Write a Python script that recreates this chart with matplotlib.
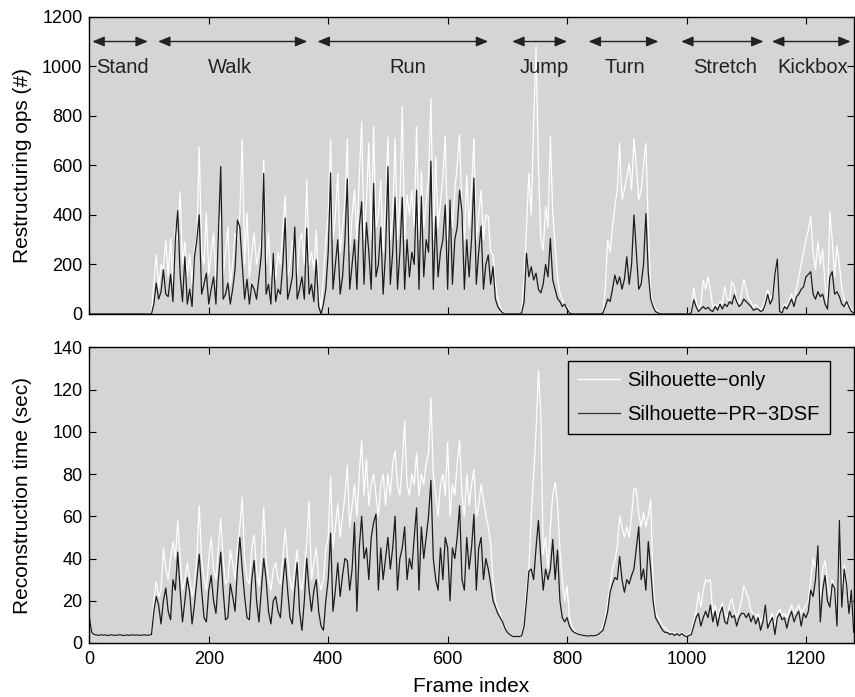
import numpy as np
import matplotlib
matplotlib.use('Agg')
import matplotlib.pyplot as plt

plt.rcParams['font.family'] = ['Liberation Sans', 'DejaVu Sans']

# Valores, um a cada 4 frames (0, 4, ..., 1280)
sil_ops = [
    0, 0, 0, 0, 0, 0, 0, 0, 0, 0, 0, 0, 0, 0, 0, 0, 0, 0, 0, 0,
    0, 0, 0, 0, 0, 0, 0, 120, 240, 100, 200, 180, 300, 150, 305, 130, 350, 300, 494, 200,
    292, 150, 240, 120, 260, 300, 675, 250, 200, 407, 160, 250, 326, 140, 312, 400, 150, 250, 352, 120,
    200, 326, 300, 400, 706, 200, 407, 150, 250, 326, 200, 250, 300, 621, 200, 326, 150, 245, 140, 250,
    200, 350, 476, 150, 200, 298, 250, 160, 300, 326, 200, 541, 200, 250, 180, 339, 100, 20, 150, 300,
    400, 705, 300, 400, 568, 250, 350, 450, 705, 250, 400, 500, 300, 550, 776, 300, 450, 691, 300, 756,
    350, 400, 541, 250, 450, 713, 300, 400, 709, 300, 450, 837, 300, 480, 400, 500, 350, 756, 300, 577,
    350, 450, 550, 870, 300, 635, 350, 450, 550, 718, 300, 450, 350, 500, 600, 725, 400, 300, 560, 350,
    500, 709, 300, 400, 500, 300, 400, 393, 250, 238, 120, 60, 30, 10, 0, 0, 0, 0, 0, 0,
    0, 10, 150, 346, 568, 400, 770, 1079, 600, 299, 258, 433, 350, 716, 407, 272, 150, 85, 60, 40,
    30, 10, 0, 0, 0, 0, 0, 0, 0, 0, 0, 0, 0, 0, 0, 10, 100, 299, 250, 350,
    433, 500, 689, 460, 500, 554, 608, 500, 709, 595, 460, 500, 600, 689, 352, 85, 40, 20, 10, 0,
    0, 0, 0, 0, 0, 0, 0, 0, 0, 0, 0, 0, 10, 104, 57, 15, 40, 137, 100, 151,
    97, 27, 40, 30, 50, 40, 110, 60, 55, 130, 110, 60, 40, 80, 140, 97, 60, 50, 27, 40,
    27, 15, 30, 60, 97, 60, 80, 160, 221, 20, 10, 40, 30, 60, 80, 50, 100, 150, 200, 250,
    300, 339, 393, 250, 180, 292, 200, 260, 120, 30, 413, 300, 150, 278, 200, 100, 60, 30, 40, 20,
    10]

pr_ops = [
    0, 0, 0, 0, 0, 0, 0, 0, 0, 0, 0, 0, 0, 0, 0, 0, 0, 0, 0, 0,
    0, 0, 0, 0, 0, 0, 0, 40, 125, 60, 90, 178, 80, 70, 160, 50, 300, 417, 160, 50,
    231, 40, 100, 30, 231, 298, 400, 80, 120, 165, 40, 100, 150, 40, 312, 595, 60, 80, 125, 40,
    100, 180, 379, 351, 200, 60, 140, 40, 120, 100, 60, 150, 238, 568, 80, 120, 40, 245, 50, 100,
    80, 200, 387, 60, 100, 150, 351, 60, 100, 150, 60, 347, 80, 120, 50, 218, 30, 0, 40, 100,
    250, 570, 100, 200, 300, 80, 150, 300, 545, 100, 200, 300, 100, 350, 453, 120, 369, 250, 100, 527,
    150, 200, 350, 80, 250, 595, 120, 250, 471, 100, 250, 471, 100, 300, 150, 250, 200, 500, 100, 476,
    150, 300, 250, 617, 100, 393, 150, 250, 300, 440, 100, 460, 120, 300, 350, 500, 413, 100, 300, 150,
    300, 548, 120, 250, 355, 100, 200, 238, 120, 191, 60, 30, 15, 5, 0, 0, 0, 0, 0, 0,
    0, 5, 50, 245, 150, 191, 137, 165, 100, 85, 120, 200, 150, 305, 137, 100, 62, 50, 30, 40,
    20, 5, 0, 0, 0, 0, 0, 0, 0, 0, 0, 0, 0, 0, 0, 5, 30, 60, 50, 100,
    157, 120, 150, 100, 140, 231, 120, 200, 400, 250, 100, 120, 200, 406, 165, 60, 30, 10, 5, 0,
    0, 0, 0, 0, 0, 0, 0, 0, 0, 0, 0, 0, 5, 57, 30, 10, 20, 30, 20, 27,
    15, 10, 30, 15, 40, 20, 40, 30, 50, 40, 77, 50, 30, 40, 60, 50, 40, 30, 15, 20,
    20, 10, 15, 40, 80, 40, 60, 160, 221, 10, 5, 30, 20, 40, 60, 30, 70, 80, 100, 110,
    150, 160, 171, 80, 60, 90, 70, 80, 40, 20, 150, 171, 80, 90, 70, 40, 30, 50, 30, 10,
    5]

sil_time = [
    12, 5, 4, 3.8, 3.6, 3.9, 3.7, 3.8, 3.5, 3.9, 3.7, 3.6, 3.8, 3.9, 3.5, 3.7, 3.8, 3.6, 3.9, 3.7,
    3.8, 3.6, 3.7, 3.9, 3.6, 3.8, 4, 20, 29, 22, 25, 45, 35, 30, 40, 48, 40, 58, 40, 25,
    30, 38, 30, 22, 28, 40, 65, 40, 30, 25, 40, 50, 35, 30, 45, 59, 40, 28, 30, 44,
    38, 30, 45, 55, 69, 40, 30, 28, 45, 51, 35, 27, 40, 64, 40, 30, 25, 35, 38, 30,
    28, 40, 54, 40, 30, 25, 35, 44, 30, 25, 35, 48, 67, 30, 38, 45, 30, 25, 30, 45,
    50, 79, 45, 55, 66, 50, 60, 70, 84, 55, 65, 75, 60, 80, 96, 70, 87, 65, 75, 80,
    70, 60, 75, 80, 65, 80, 70, 85, 91, 75, 70, 85, 105, 75, 70, 80, 75, 90, 70, 80,
    75, 85, 90, 116, 80, 70, 60, 75, 80, 70, 95, 60, 75, 70, 85, 96, 70, 60, 80, 65,
    75, 82, 60, 65, 75, 68, 60, 55, 47, 30, 20, 16, 14, 10, 8, 5, 4, 3.2, 3, 3.1,
    3, 3.5, 10, 25, 36, 60, 80, 100, 129, 109, 42, 50, 35, 55, 70, 76, 66, 44, 30, 20,
    27, 12, 8, 6, 5, 4, 3.8, 3.5, 3.4, 3.3, 3.5, 3.4, 3.6, 4, 5, 8, 12, 20, 27, 35,
    39, 45, 60, 55, 50, 55, 50, 60, 73, 73, 61, 55, 62, 55, 60, 68, 27, 15, 12, 10,
    8, 7, 6, 5, 5, 4.5, 5, 4, 5, 4, 3.5, 4, 5, 10, 15, 24, 17, 25, 30, 29,
    30, 14, 18, 12, 16, 19, 14, 12, 18, 21, 16, 12, 15, 20, 27, 24, 21, 15, 14, 12,
    14, 10, 12, 18, 9, 12, 14, 8, 14, 16, 13, 14, 12, 15, 18, 14, 16, 18, 14, 16,
    18, 20, 30, 40, 35, 46, 20, 35, 39, 28, 22, 30, 26, 15, 58, 25, 37, 30, 18, 25,
    8]

pr_time = [
    12, 5, 4, 3.8, 3.6, 3.9, 3.7, 3.8, 3.5, 3.9, 3.7, 3.6, 3.8, 3.9, 3.5, 3.7, 3.8, 3.6, 3.9, 3.7,
    3.8, 3.6, 3.7, 3.9, 3.6, 3.8, 4, 15, 22, 18, 9, 20, 26, 15, 11, 30, 25, 43, 25, 10,
    20, 31, 24, 9, 18, 30, 42, 25, 12, 10, 25, 32, 20, 14, 30, 43, 25, 11, 12, 28,
    22, 15, 35, 50, 35, 22, 12, 11, 30, 39, 20, 10, 25, 40, 30, 15, 9, 20, 22, 15,
    12, 28, 40, 25, 12, 9, 25, 38, 15, 6, 20, 40, 25, 15, 25, 30, 15, 8, 6, 20,
    30, 52, 15, 25, 38, 22, 32, 40, 39, 25, 35, 57, 15, 45, 60, 40, 45, 30, 50, 57,
    61, 25, 45, 30, 40, 50, 35, 45, 60, 25, 40, 45, 55, 30, 40, 35, 50, 64, 25, 55,
    40, 50, 60, 77, 40, 30, 25, 45, 30, 50, 45, 20, 45, 40, 50, 65, 30, 25, 50, 35,
    45, 61, 25, 45, 50, 30, 40, 35, 28, 20, 17, 14, 12, 10, 7, 5, 4, 3.2, 3, 3.1,
    3, 3.5, 8, 20, 34, 35, 30, 45, 58, 40, 25, 35, 30, 35, 49, 30, 44, 20, 12, 10,
    12, 8, 6, 5, 4.5, 4, 3.8, 3.5, 3.4, 3.3, 3.5, 3.4, 3.6, 4, 5, 6, 10, 15, 24, 28,
    31, 30, 41, 30, 24, 30, 28, 32, 35, 45, 55, 30, 35, 25, 48, 35, 20, 12, 10, 8,
    6, 5, 5, 4, 4.5, 3.5, 4.5, 3.5, 4.5, 3.5, 3, 3.5, 4, 8, 12, 14, 8, 12, 15, 12,
    18, 10, 15, 8, 14, 17, 10, 9, 15, 12, 13, 8, 12, 14, 14, 12, 14, 10, 13, 9,
    12, 6, 10, 18, 7, 10, 12, 4, 12, 14, 11, 12, 7, 12, 15, 10, 13, 15, 8, 14,
    12, 15, 25, 22, 30, 46, 10, 25, 32, 20, 17, 28, 26, 8, 58, 17, 35, 28, 14, 25,
    5]

# Atividades (inicio, fim, posicao do texto) em frames
atividades = ['Stand', 'Walk', 'Run', 'Jump', 'Turn', 'Stretch', 'Kickbox']
inicio = [5, 115, 382, 708, 836, 991, 1143]
fim = [98, 365, 668, 800, 953, 1129, 1275]
pos_texto = [55, 235, 533, 761, 897, 1064, 1211]

bg = '#d4d5d7'
cor_escura = '#1c1c1c'

fig = plt.figure(figsize=(8.55, 6.97), dpi=100)
ax1 = fig.add_axes([0.1045, 0.5495, 0.894, 0.4265])
ax2 = fig.add_axes([0.1045, 0.0775, 0.894, 0.4242])

# Grafico de cima: operacoes de reestruturacao
ax1.plot(np.arange(len(sil_ops)) * 4, sil_ops, color='white', lw=0.9)
ax1.plot(np.arange(len(pr_ops)) * 4, pr_ops, color=cor_escura, lw=0.9)
ax1.set_ylim(0, 1200)
ax1.set_yticks(range(0, 1201, 200))
ax1.set_ylabel('Restructuring ops (#)', fontsize=15)

for nome, a, b, t in zip(atividades, inicio, fim, pos_texto):
    ax1.annotate('', xy=(b, 1100), xytext=(a, 1100),
                 arrowprops=dict(arrowstyle='<|-|>,head_length=0.6,head_width=0.25',
                                 color='#222222', lw=1, mutation_scale=12,
                                 shrinkA=0, shrinkB=0))
    ax1.text(t, 995, nome, ha='center', va='center', fontsize=14.5, color='#222222')

# Grafico de baixo: tempo de reconstrucao
ax2.plot(np.arange(len(sil_time)) * 4, sil_time, color='white', lw=0.9,
         label='Silhouette\u2212only')
ax2.plot(np.arange(len(pr_time)) * 4, pr_time, color=cor_escura, lw=0.9,
         label='Silhouette\u2212PR\u22123DSF')
ax2.set_ylim(0, 140)
ax2.set_yticks(range(0, 141, 20))
ax2.set_ylabel('Reconstruction time (sec)', fontsize=15)
ax2.set_xlabel('Frame index', fontsize=15)
leg = ax2.legend(loc='upper right', bbox_to_anchor=(0.9686, 0.9547), fontsize=14.5,
                 fancybox=False, framealpha=1, facecolor=bg, edgecolor='black',
                 handlelength=2.1, handletextpad=0.35, borderpad=0.5,
                 labelspacing=0.75, borderaxespad=0)
leg.get_frame().set_linewidth(1)
leg.get_lines()[1].set_color('#333333')

for ax in (ax1, ax2):
    ax.set_facecolor(bg)
    ax.set_xlim(0, 1280)
    ax.set_xticks(range(0, 1281, 200))
    ax.tick_params(direction='in', top=True, right=True, length=5, width=0.8,
                   labelsize=13, pad=5)
    ax.yaxis.set_label_coords(-0.075, 0.5)
    for s in ax.spines.values():
        s.set_linewidth(1)
ax1.tick_params(labelbottom=False)
ax2.tick_params(axis='x', pad=6)
ax2.xaxis.set_label_coords(0.5, -0.115)
ax2.xaxis.label.set_va('top')

fig.savefig('out.png', dpi=100)
